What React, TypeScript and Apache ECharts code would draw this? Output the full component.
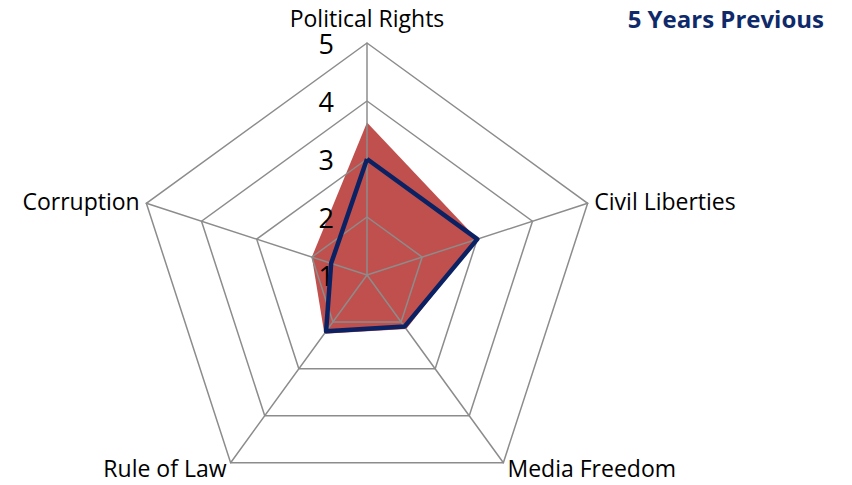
import React, { useEffect, useRef } from "react";
import * as echarts from "echarts";

const indicatorNames = ["Political Rights", "Corruption", "Rule of Law", "Media Freedom", "Civil Liberties"];
const currentValues = [3.63, 2.0, 2.25, 2.15, 3.0];
const previousValues = [3.0, 1.65, 2.2, 2.1, 3.0];
const scaleMin = 1;
const scaleMax = 5;
const titleText = "5 Years Previous";

const FONT = "'Open Sans', 'Liberation Sans', sans-serif";

export default function App() {
  const ref = useRef<HTMLDivElement>(null);
  useEffect(() => {
    if (!ref.current) return;
    const chart = echarts.init(ref.current, undefined, { renderer: "svg" });
    chart.setOption({
      animation: false,
      backgroundColor: "#ffffff",
      title: {
        text: titleText,
        right: 23,
        top: 1,
        textStyle: { fontFamily: FONT, fontSize: 24, fontWeight: "bold", color: "#0f2a6b" },
      },
      radar: {
        z: 2,
        center: [367, 275],
        radius: 232,
        startAngle: 90,
        shape: "polygon",
        splitNumber: 4,
        nameGap: 7,
        axisName: { color: "#000000", fontFamily: FONT, fontSize: 23 },
        splitLine: { lineStyle: { color: "#8c8c8c", width: 1.5 } },
        splitArea: { show: false },
        axisLine: { lineStyle: { color: "#8c8c8c", width: 1.5 } },
        axisTick: { show: false },
        axisLabel: { show: false },
        indicator: indicatorNames.map((name, i) => ({
          name,
          min: scaleMin,
          max: scaleMax,
          ...(i === 0
            ? {
                axisLabel: {
                  show: true,
                  margin: 33,
                  fontFamily: FONT,
                  fontSize: 27,
                  color: "#000000",
                },
              }
            : {}),
        })),
      },
      series: [
        {
          type: "radar",
          symbol: "none",
          z: 1,
          data: [
            {
              name: "Current",
              value: currentValues,
              lineStyle: { width: 0, color: "#c0504d" },
              areaStyle: { color: "#c0504d", opacity: 1 },
            },
          ],
        },
        {
          type: "radar",
          symbol: "none",
          z: 3,
          data: [
            {
              name: titleText,
              value: previousValues,
              lineStyle: { width: 4.5, color: "#0a2263" },
            },
          ],
        },
      ],
    });
    return () => chart.dispose();
  }, []);
  return (
    <div
      ref={ref}
      style={{ position: "absolute", left: 0, top: 0, width: 852, height: 485 }}
    />
  );
}
